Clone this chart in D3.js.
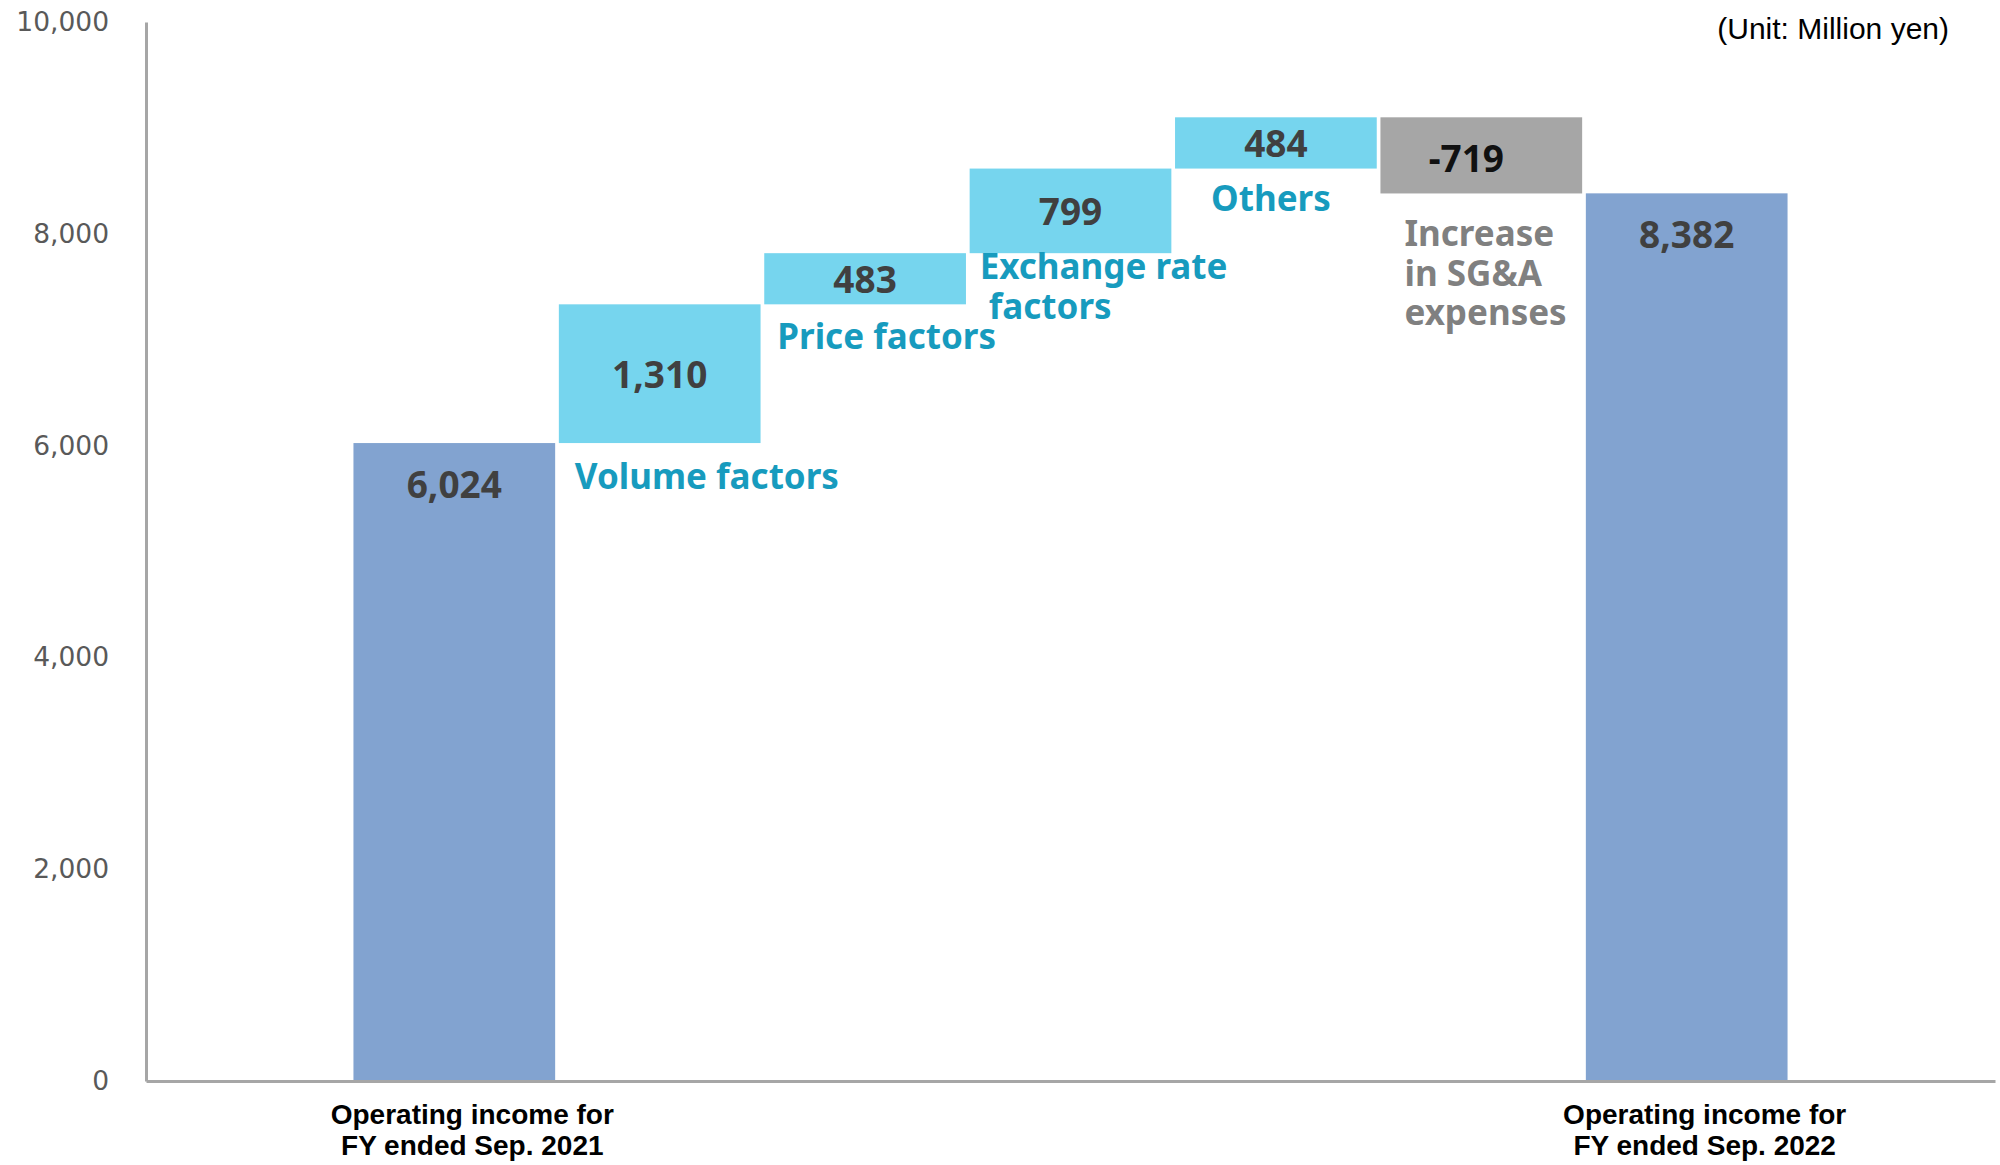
<!DOCTYPE html>
<html>
<head>
<meta charset="utf-8">
<script src="https://cdn.jsdelivr.net/npm/d3@7"></script>
<style>
  html, body { margin: 0; padding: 0; background: #fff; }
  svg { display: block; }
</style>
</head>
<body>
<svg id="chart" width="2000" height="1165"></svg>
<script>
// Operating income bridge, FY Sep. 2021 -> FY Sep. 2022 (million yen)
const categories = [
  "Operating income for\nFY ended Sep. 2021",
  "Volume factors",
  "Price factors",
  "Exchange rate\n factors",
  "Others",
  "Increase\nin SG&A\nexpenses",
  "Operating income for\nFY ended Sep. 2022"
];
const values = [6024, 1310, 483, 799, 484, -719, 8382];
const kinds = ["total", "up", "up", "up", "up", "down", "total"];
const valueLabels = ["6,024", "1,310", "483", "799", "484", "-719", "8,382"];
const yTicks = [0, 2000, 4000, 6000, 8000, 10000];
const unitText = "(Unit: Million yen)";

// running totals for the floating bars
let run = 0;
const steps = values.map((v, i) => {
  let lo, hi;
  if (kinds[i] === "total") { lo = 0; hi = v; run = v; }
  else { const start = run; run += v; lo = Math.min(start, run); hi = Math.max(start, run); }
  return { i, v, kind: kinds[i], lo, hi, label: valueLabels[i], cat: categories[i] };
});

const svg = d3.select("#chart");
const plot = { left: 146, right: 1995, top: 22, bottom: 1081 };

// one empty slot either side of the seven bars
const x = d3.scaleBand().domain(d3.range(categories.length + 2))
  .range([plot.left, plot.right]).paddingInner(0.018).paddingOuter(0.01);
const y = d3.scaleLinear().domain([0, 10000]).range([plot.bottom, plot.top]);
const slot = i => x(i + 1);

const fills = { total: "#82A3D0", up: "#76D5EE", down: "#A6A6A6" };

// bars
svg.append("g").selectAll("rect").data(steps).join("rect")
  .attr("x", d => slot(d.i))
  .attr("width", x.bandwidth())
  .attr("y", d => y(d.hi))
  .attr("height", d => y(d.lo) - y(d.hi))
  .attr("fill", d => fills[d.kind]);

// value labels
const boldFont = "'Noto Sans', 'DejaVu Sans', sans-serif";
svg.append("g").selectAll("text").data(steps).join("text")
  .attr("x", d => slot(d.i) + x.bandwidth() / 2 + (d.kind === "down" ? -15 : 0))
  .attr("y", d => d.kind === "total" ? y(d.hi) + 55
    : (y(d.hi) + y(d.lo)) / 2 + (d.kind === "down" ? 17 : 14))
  .attr("text-anchor", "middle")
  .attr("font-family", boldFont)
  .attr("font-weight", 700)
  .attr("font-size", 37)
  .attr("fill", d => d.kind === "down" ? "#111111" : "#404040")
  .text(d => d.label);

// driver labels under each floating bar
const labelPlace = { 1: [16, 46], 2: [13, 45], 3: [10, 26], 4: [36, 42], 5: [24, 53] };
const lineGap = 39.5;
const driverG = svg.append("g");
steps.filter(d => d.kind !== "total").forEach(d => {
  const [dx, dy] = labelPlace[d.i];
  const t = driverG.append("text")
    .attr("x", slot(d.i) + dx)
    .attr("y", y(d.lo) + dy)
    .attr("font-family", boldFont)
    .attr("font-weight", 700)
    .attr("font-size", 35)
    .attr("fill", d.kind === "down" ? "#808080" : "#179BBE")
    .style("white-space", "pre");
  d.cat.split("\n").forEach((line, k) => {
    t.append("tspan")
      .attr("x", slot(d.i) + dx)
      .attr("dy", k === 0 ? 0 : lineGap)
      .text(line);
  });
});

// y axis
const yAxis = svg.append("g")
  .attr("transform", `translate(${plot.left},0)`)
  .call(d3.axisLeft(y).tickValues(yTicks).tickFormat(d3.format(",")).tickSize(0).tickPadding(37));
yAxis.select(".domain").attr("stroke", "#A6A6A6").attr("stroke-width", 3);
yAxis.selectAll("text")
  .attr("font-family", "'DejaVu Sans', sans-serif")
  .attr("font-size", 26.5)
  .attr("fill", "#595959");

// x axis line
const xAxis = svg.append("g")
  .attr("transform", `translate(0,${plot.bottom})`)
  .call(d3.axisBottom(x).tickValues([]).tickSizeOuter(0));
xAxis.select(".domain").attr("stroke", "#A6A6A6").attr("stroke-width", 3);

// category labels for the two totals
const catG = svg.append("g");
steps.filter(d => d.kind === "total").forEach(d => {
  const cx = slot(d.i) + x.bandwidth() / 2 + 18;
  const t = catG.append("text")
    .attr("x", cx)
    .attr("y", 1124)
    .attr("text-anchor", "middle")
    .attr("font-family", "'Liberation Sans', Arial, sans-serif")
    .attr("font-weight", 700)
    .attr("font-size", 28)
    .attr("fill", "#000");
  d.cat.split("\n").forEach((line, k) => {
    t.append("tspan").attr("x", cx).attr("dy", k === 0 ? 0 : 31).text(line);
  });
});

// unit note
svg.append("text")
  .attr("x", 1949)
  .attr("y", 39)
  .attr("text-anchor", "end")
  .attr("font-family", "'Liberation Sans', Arial, sans-serif")
  .attr("font-size", 30)
  .attr("fill", "#000")
  .text(unitText);
</script>
</body>
</html>
